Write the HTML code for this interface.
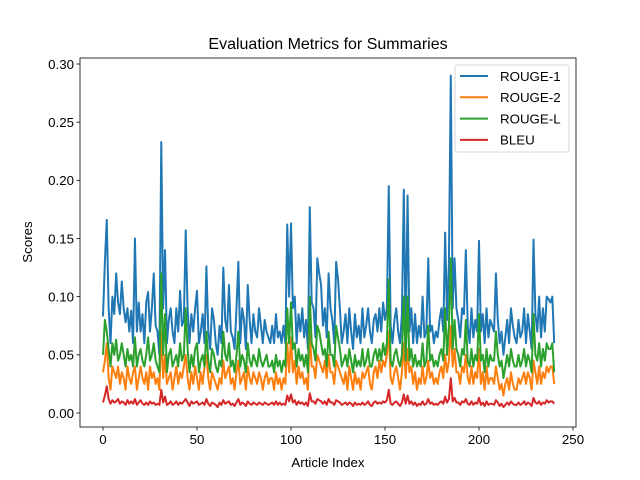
<!DOCTYPE html>
<html><head><meta charset="utf-8"><style>
body{margin:0;background:#fff;}
svg{display:block;font-family:"Liberation Sans","DejaVu Sans",sans-serif;}
</style></head><body>
<svg id="chart" width="640" height="480">
<rect x="0" y="0" width="640" height="480" fill="#fff"/>
<g id="plot"></g>
<g id="axes"></g>
</svg>
<script>
const seriesNames = ["ROUGE-1","ROUGE-2","ROUGE-L","BLEU"];
const seriesColors = ["#1f77b4","#ff7f0e","#2ca02c","#d62728"];
const xTicks = [0,50,100,150,200,250];
const yTicks = [0,0.05,0.10,0.15,0.20,0.25,0.30];
const yTickLabels = ["0.00","0.05","0.10","0.15","0.20","0.25","0.30"];
const rouge1 = [.083,.13,.166,.09,.06,.10,.085,.12,.095,.085,
.113,.09,.078,.09,.07,.088,.06,.15,.07,.095,
.07,.085,.06,.095,.104,.07,.09,.12,.075,.07,
.05,.233,.09,.14,.06,.08,.09,.07,.06,.09,
.07,.105,.075,.08,.157,.09,.06,.085,.07,.09,
.105,.06,.07,.085,.06,.126,.07,.055,.09,.08,
.06,.05,.075,.06,.125,.08,.07,.11,.07,.065,
.055,.09,.13,.06,.09,.08,.055,.11,.08,.06,
.085,.07,.065,.09,.075,.06,.08,.07,.065,.06,
.075,.06,.085,.065,.07,.06,.075,.06,.162,.1,
.163,.09,.10,.06,.085,.07,.09,.065,.08,.055,
.177,.095,.09,.065,.133,.12,.11,.075,.09,.065,
.12,.09,.08,.06,.13,.115,.09,.06,.07,.085,
.06,.09,.07,.055,.085,.065,.075,.06,.09,.065,
.075,.09,.07,.06,.08,.085,.07,.09,.07,.095,
.08,.09,.195,.075,.06,.08,.09,.07,.06,.085,
.192,.065,.187,.07,.09,.06,.085,.06,.075,.065,
.1,.065,.07,.133,.07,.075,.06,.07,.065,.08,
.09,.07,.155,.08,.13,.29,.09,.133,.09,.08,
.065,.09,.085,.14,.075,.06,.09,.065,.08,.07,
.148,.07,.085,.06,.09,.065,.08,.075,.07,.12,
.08,.06,.07,.05,.065,.08,.06,.09,.075,.065,
.06,.08,.065,.07,.09,.06,.085,.07,.055,.149,
.085,.07,.1,.065,.09,.07,.1,.098,.095,.1,
.06];
const rouge2 = [.035,.045,.06,.03,.02,.04,.035,.03,.04,.025,
.035,.03,.02,.04,.03,.025,.035,.04,.02,.03,
.04,.03,.025,.035,.02,.04,.03,.035,.025,.03,
.02,.07,.03,.05,.025,.03,.035,.02,.03,.04,
.025,.035,.03,.04,.05,.03,.02,.035,.025,.04,
.03,.02,.035,.025,.04,.05,.03,.02,.035,.03,
.025,.02,.03,.025,.045,.03,.035,.04,.025,.03,
.02,.035,.045,.025,.03,.035,.02,.04,.03,.025,
.035,.03,.025,.035,.03,.02,.03,.035,.025,.03,
.03,.02,.035,.025,.03,.02,.03,.025,.06,.035,
.065,.035,.045,.025,.04,.03,.035,.025,.03,.02,
.07,.04,.04,.03,.05,.045,.04,.035,.045,.03,
.05,.035,.035,.025,.045,.04,.035,.03,.025,.035,
.02,.04,.03,.02,.035,.025,.03,.02,.035,.03,
.035,.04,.025,.02,.035,.04,.03,.045,.035,.045,
.04,.05,.07,.03,.025,.035,.04,.03,.02,.035,
.06,.03,.055,.035,.04,.025,.035,.02,.03,.025,
.04,.025,.03,.045,.03,.035,.025,.03,.025,.035,
.04,.03,.05,.035,.045,.075,.04,.055,.035,.035,
.025,.04,.035,.05,.03,.025,.04,.025,.035,.03,
.055,.025,.035,.02,.04,.025,.03,.03,.025,.04,
.03,.02,.025,.015,.025,.03,.02,.035,.025,.02,
.02,.03,.025,.03,.035,.025,.035,.03,.02,.045,
.035,.025,.04,.025,.035,.03,.04,.035,.04,.04,
.025];
const rougeL = [.05,.08,.07,.055,.04,.06,.05,.063,.045,.05,
.06,.05,.04,.055,.045,.05,.04,.065,.04,.05,
.055,.045,.04,.05,.065,.045,.05,.06,.045,.04,
.035,.12,.05,.085,.035,.05,.055,.04,.045,.05,
.04,.06,.045,.05,.09,.055,.035,.05,.04,.055,
.06,.035,.045,.05,.04,.07,.045,.035,.055,.05,
.04,.035,.045,.04,.07,.05,.045,.06,.04,.045,
.035,.05,.07,.04,.05,.045,.035,.06,.045,.04,
.05,.045,.04,.055,.045,.04,.045,.05,.04,.04,
.045,.035,.05,.04,.045,.035,.045,.04,.09,.06,
.095,.055,.06,.04,.055,.045,.05,.04,.05,.035,
.1,.06,.055,.045,.075,.07,.06,.05,.055,.04,
.07,.05,.05,.04,.075,.065,.055,.04,.045,.05,
.04,.055,.045,.035,.05,.04,.045,.04,.055,.04,
.045,.055,.04,.04,.05,.055,.045,.055,.045,.06,
.05,.06,.115,.045,.04,.05,.055,.045,.04,.05,
.1,.045,.1,.045,.055,.04,.05,.04,.045,.04,
.06,.04,.045,.075,.045,.05,.04,.045,.04,.05,
.055,.045,.09,.05,.075,.133,.055,.08,.055,.05,
.04,.055,.05,.08,.045,.04,.055,.04,.05,.045,
.085,.045,.05,.035,.055,.04,.05,.045,.045,.07,
.05,.04,.045,.03,.04,.05,.04,.055,.045,.04,
.04,.05,.04,.045,.055,.04,.05,.045,.035,.085,
.05,.045,.06,.04,.055,.045,.06,.055,.055,.06,
.035];
const bleu = [.009,.015,.023,.012,.008,.011,.009,.01,.012,.008,
.01,.009,.007,.011,.008,.01,.008,.012,.007,.009,
.011,.008,.007,.009,.007,.01,.008,.009,.007,.008,
.007,.02,.009,.014,.007,.008,.01,.007,.008,.01,
.007,.009,.008,.01,.012,.009,.006,.01,.008,.009,
.01,.007,.008,.009,.007,.012,.008,.006,.009,.008,
.007,.005,.009,.007,.011,.008,.009,.01,.007,.008,
.006,.009,.012,.007,.009,.008,.006,.01,.008,.007,
.009,.008,.007,.009,.008,.007,.009,.008,.007,.008,
.009,.007,.01,.007,.009,.007,.008,.007,.015,.01,
.016,.009,.011,.007,.01,.008,.009,.007,.009,.006,
.017,.01,.01,.008,.012,.011,.01,.008,.01,.007,
.012,.009,.009,.007,.011,.01,.009,.007,.008,.009,
.007,.009,.008,.006,.009,.007,.008,.007,.009,.007,
.008,.01,.007,.006,.009,.01,.008,.009,.008,.01,
.009,.011,.02,.008,.007,.009,.01,.008,.006,.009,
.016,.008,.015,.008,.01,.007,.009,.006,.008,.007,
.01,.007,.008,.012,.008,.009,.007,.008,.007,.009,
.01,.008,.014,.009,.012,.03,.01,.013,.009,.009,
.007,.01,.009,.012,.008,.007,.01,.007,.009,.008,
.013,.007,.009,.006,.01,.007,.008,.008,.007,.011,
.009,.006,.008,.005,.007,.009,.007,.01,.008,.007,
.007,.009,.007,.008,.01,.007,.009,.008,.006,.013,
.009,.008,.01,.007,.009,.008,.011,.009,.01,.01,
.008];

const NS="http://www.w3.org/2000/svg";
const L=80,R=576,T=58,B=427;
function xs(i){return 103+i*(573-103)/250;}
function ys(v){return 413-v*(413-64)/0.30;}
function mk(tag,attrs,parent){const e=document.createElementNS(NS,tag);for(const k in attrs)e.setAttribute(k,attrs[k]);parent.appendChild(e);return e;}
const plot=document.getElementById('plot'), axes=document.getElementById('axes');
const allSeries=[rouge1,rouge2,rougeL,bleu];
allSeries.forEach((s,si)=>{
  const d=s.map((v,i)=>(i?'L':'M')+xs(i).toFixed(2)+' '+ys(v).toFixed(2)).join(' ');
  const p=mk('path',{d:d,fill:'none',stroke:seriesColors[si],'stroke-width':2,'stroke-linejoin':'round'},plot);
  
  
});
const frame=mk('rect',{x:L,y:T,width:R-L,height:B-T,fill:'none',stroke:'#000','stroke-width':0.8},axes);


xTicks.forEach(t=>{
  const x=xs(t);
  mk('line',{x1:x,x2:x,y1:B,y2:B+3.5,stroke:'#000','stroke-width':0.8},axes);
  const tx=mk('text',{x:x,y:B+17,'text-anchor':'middle','font-size':'13.3px',fill:'#000'},axes);
  tx.textContent=t;
  
  
});
yTicks.forEach((t,i)=>{
  const y=ys(t);
  mk('line',{x1:L-3.5,x2:L,y1:y,y2:y,stroke:'#000','stroke-width':0.8},axes);
  const tx=mk('text',{x:L-6,y:y+4.8,'text-anchor':'end','font-size':'13.3px',fill:'#000'},axes);
  tx.textContent=yTickLabels[i];
  
  
});
const title=mk('text',{x:(L+R)/2,y:49,'text-anchor':'middle','font-size':'16px',fill:'#000'},axes);
title.textContent='Evaluation Metrics for Summaries';


const xl=mk('text',{x:(L+R)/2,y:467,'text-anchor':'middle','font-size':'13.3px',fill:'#000'},axes);
xl.textContent='Article Index';


const yl=mk('text',{x:0,y:0,'text-anchor':'middle','font-size':'13.3px',fill:'#000',transform:'translate(32,242) rotate(-90)'},axes);
yl.textContent='Scores';


const lg=mk('g',{},axes);


mk('rect',{x:455,y:65,width:114,height:87,rx:2,fill:'#fff','fill-opacity':0.8,stroke:'#ccc','stroke-width':0.8},lg);
seriesNames.forEach((n,i)=>{
  const y=76+i*21.3;
  const g=mk('g',{},lg);
  
  
  mk('line',{x1:460,x2:488,y1:y,y2:y,stroke:seriesColors[i],'stroke-width':2},g);
  const t=mk('text',{x:500,y:y+4.8,'font-size':'13.3px',fill:'#000'},g);
  t.textContent=n;
});
</script>
</body></html>
